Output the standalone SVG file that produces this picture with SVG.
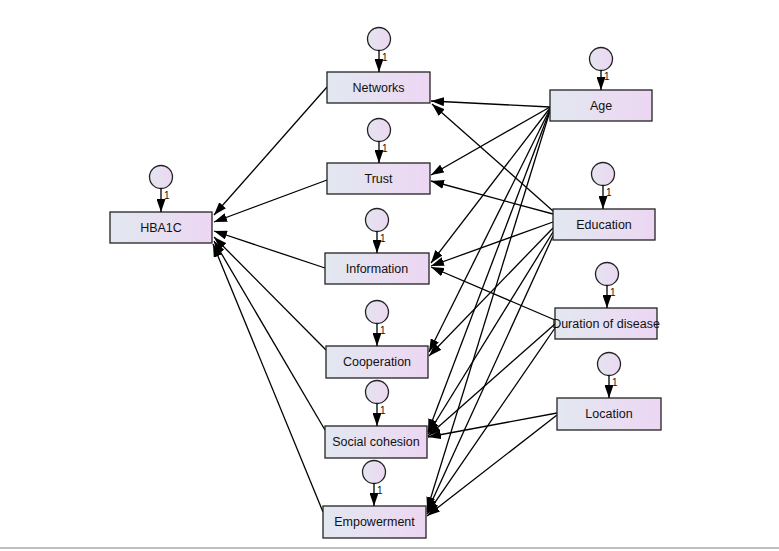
<svg xmlns="http://www.w3.org/2000/svg" width="779" height="551" viewBox="0 0 779 551">
<defs>
<linearGradient id="gb" x1="0" y1="0" x2="1" y2="0">
<stop offset="0" stop-color="#e2e8f0"/>
<stop offset="1" stop-color="#edd6f3"/>
</linearGradient>
<linearGradient id="gc" x1="0" y1="0" x2="1" y2="0">
<stop offset="0" stop-color="#e4e4f0"/>
<stop offset="1" stop-color="#ecd8f2"/>
</linearGradient>
<marker id="ah" viewBox="0 0 13 9" refX="13" refY="4.5" markerWidth="13" markerHeight="9" markerUnits="userSpaceOnUse" orient="auto">
<path d="M0,0 L13,4.5 L0,9 z" fill="#000"/>
</marker>
</defs>
<style>
rect.box{fill:url(#gb);stroke:#222;stroke-width:1.3}
circle.err{fill:url(#gc);stroke:#222;stroke-width:1.3}
line.c{stroke:#000;stroke-width:1.3;marker-end:url(#ah)}
text.lbl{font-family:"Liberation Sans",Arial,sans-serif;font-size:12.5px;text-anchor:middle;fill:#111}
text.one{font-family:"Liberation Sans",Arial,sans-serif;font-size:10px;fill:#111}
</style>
<rect width="779" height="551" fill="#fff"/>
<line x1="0" y1="548" x2="779" y2="548" stroke="#aaa" stroke-width="1.5"/>
<g id="connectors">
<line class="c" x1="327" y1="87" x2="214" y2="215"/>
<line class="c" x1="327" y1="180" x2="214" y2="222"/>
<line class="c" x1="325" y1="268" x2="214" y2="231"/>
<line class="c" x1="326" y1="350" x2="214" y2="237"/>
<line class="c" x1="325" y1="430" x2="214" y2="241"/>
<line class="c" x1="323" y1="512" x2="213" y2="244"/>
<line class="c" x1="550" y1="107" x2="431" y2="101"/>
<line class="c" x1="550" y1="107" x2="431" y2="175"/>
<line class="c" x1="550" y1="108" x2="431" y2="263"/>
<line class="c" x1="550" y1="109" x2="429" y2="352"/>
<line class="c" x1="550" y1="110" x2="428" y2="432"/>
<line class="c" x1="550" y1="111" x2="427" y2="510"/>
<line class="c" x1="553" y1="211" x2="432" y2="104"/>
<line class="c" x1="553" y1="214" x2="431" y2="181"/>
<line class="c" x1="553" y1="222" x2="431" y2="266"/>
<line class="c" x1="553" y1="228" x2="429" y2="356"/>
<line class="c" x1="553" y1="232" x2="428" y2="434"/>
<line class="c" x1="553" y1="236" x2="427" y2="512"/>
<line class="c" x1="555" y1="320" x2="431" y2="267"/>
<line class="c" x1="555" y1="324" x2="428" y2="436"/>
<line class="c" x1="555" y1="328" x2="427" y2="514"/>
<line class="c" x1="557" y1="413" x2="428" y2="437"/>
<line class="c" x1="557" y1="415" x2="427" y2="516"/>
</g>
<g id="HBA1C">
<rect class="box" x="110" y="212" width="102" height="31"/>
<text class="lbl" x="161" y="232">HBA1C</text>
<circle class="err" cx="161" cy="177" r="11.5"/>
<line class="c" x1="161" y1="188.5" x2="161" y2="212"/>
<text class="one" x="164" y="199">1</text>
</g>
<g id="Networks">
<rect class="box" x="327" y="72" width="103" height="31"/>
<text class="lbl" x="378.5" y="92">Networks</text>
<circle class="err" cx="379" cy="39" r="11.5"/>
<line class="c" x1="379" y1="50.5" x2="379" y2="72"/>
<text class="one" x="382" y="61">1</text>
</g>
<g id="Trust">
<rect class="box" x="327" y="163" width="103" height="31"/>
<text class="lbl" x="378.5" y="183">Trust</text>
<circle class="err" cx="379" cy="130" r="11.5"/>
<line class="c" x1="379" y1="141.5" x2="379" y2="163"/>
<text class="one" x="382" y="152">1</text>
</g>
<g id="Information">
<rect class="box" x="325" y="253" width="104" height="31"/>
<text class="lbl" x="377" y="273">Information</text>
<circle class="err" cx="377" cy="220" r="11.5"/>
<line class="c" x1="377" y1="231.5" x2="377" y2="253"/>
<text class="one" x="380" y="242">1</text>
</g>
<g id="Cooperation">
<rect class="box" x="326" y="346" width="102" height="32"/>
<text class="lbl" x="377" y="366">Cooperation</text>
<circle class="err" cx="377" cy="312" r="11.5"/>
<line class="c" x1="377" y1="323.5" x2="377" y2="346"/>
<text class="one" x="380" y="334">1</text>
</g>
<g id="SocialCohesion">
<rect class="box" x="325" y="426" width="102" height="32"/>
<text class="lbl" x="376" y="446">Social cohesion</text>
<circle class="err" cx="377" cy="392" r="11.5"/>
<line class="c" x1="377" y1="403.5" x2="377" y2="426"/>
<text class="one" x="380" y="414">1</text>
</g>
<g id="Empowerment">
<rect class="box" x="323" y="506" width="103" height="32"/>
<text class="lbl" x="374.5" y="526">Empowerment</text>
<circle class="err" cx="374" cy="472" r="11.5"/>
<line class="c" x1="374" y1="483.5" x2="374" y2="506"/>
<text class="one" x="377" y="494">1</text>
</g>
<g id="Age">
<rect class="box" x="550" y="90" width="102" height="31"/>
<text class="lbl" x="601" y="110">Age</text>
<circle class="err" cx="601" cy="59" r="11.5"/>
<line class="c" x1="601" y1="70.5" x2="601" y2="90"/>
<text class="one" x="604" y="80">1</text>
</g>
<g id="Education">
<rect class="box" x="553" y="209" width="102" height="31"/>
<text class="lbl" x="604" y="229">Education</text>
<circle class="err" cx="603" cy="174" r="11.5"/>
<line class="c" x1="603" y1="185.5" x2="603" y2="209"/>
<text class="one" x="606" y="196">1</text>
</g>
<g id="Duration">
<rect class="box" x="555" y="308" width="102" height="31"/>
<text class="lbl" x="606" y="328">Duration of disease</text>
<circle class="err" cx="607" cy="274" r="11.5"/>
<line class="c" x1="607" y1="285.5" x2="607" y2="308"/>
<text class="one" x="610" y="296">1</text>
</g>
<g id="Location">
<rect class="box" x="557" y="398" width="104" height="32"/>
<text class="lbl" x="609" y="418">Location</text>
<circle class="err" cx="609" cy="364" r="11.5"/>
<line class="c" x1="609" y1="375.5" x2="609" y2="398"/>
<text class="one" x="612" y="386">1</text>
</g>
</svg>
